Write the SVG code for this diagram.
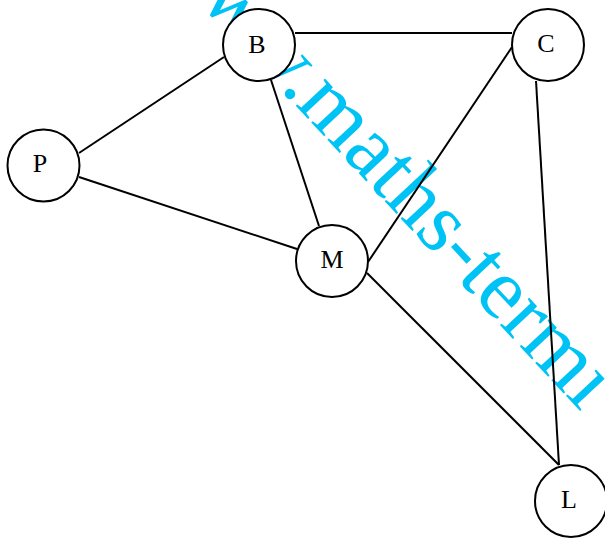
<svg xmlns="http://www.w3.org/2000/svg" width="605" height="539" viewBox="0 0 605 539">
<style>
.node circle{fill:#fff;stroke:#000;stroke-width:2}
.node text{font-family:"Liberation Serif",serif;font-size:26px;text-anchor:middle;fill:#000}
.edges line{stroke:#000;stroke-width:2}
.wm{font-family:"Liberation Serif",serif;font-size:87px;fill:#00C3F5}
</style>
<rect width="605" height="539" fill="#fff"/>
<text class="wm" transform="translate(155,-45) rotate(47)">www.maths-termi</text>
<g class="edges">
<line x1="295" y1="33" x2="512" y2="33"/>
<line x1="79" y1="153" x2="224" y2="57"/>
<line x1="79" y1="177" x2="297" y2="249"/>
<line x1="271" y1="80" x2="319" y2="226"/>
<line x1="512" y1="47" x2="368" y2="262"/>
<line x1="536" y1="81" x2="559" y2="465"/>
<line x1="367" y1="273" x2="559" y2="465"/>
</g>
<g id="B" class="node"><circle cx="259" cy="45" r="36"/><text x="257" y="53">B</text></g>
<g id="C" class="node"><circle cx="548" cy="45" r="36"/><text x="546" y="52">C</text></g>
<g id="M" class="node"><circle cx="332" cy="261" r="36"/><text x="332" y="268">M</text></g>
<g id="P" class="node"><circle cx="43.5" cy="165.5" r="36"/><text x="40" y="172">P</text></g>
<g id="L" class="node"><circle cx="571" cy="501" r="36"/><text x="569" y="508">L</text></g>
</svg>
